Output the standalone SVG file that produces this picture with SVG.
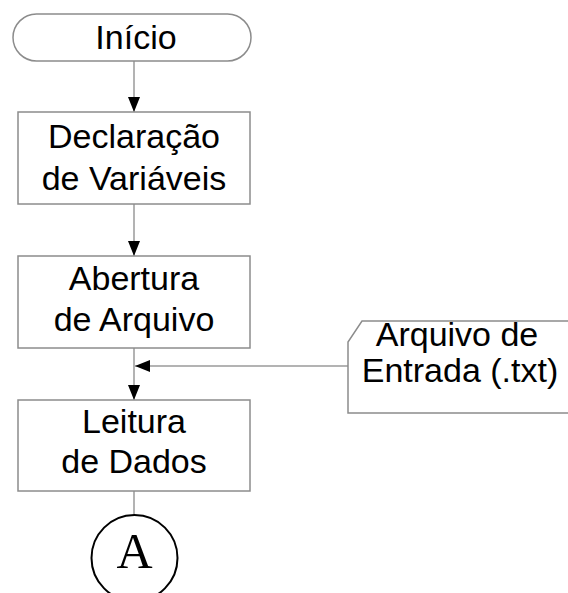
<svg xmlns="http://www.w3.org/2000/svg" width="568" height="593" viewBox="0 0 568 593">
<defs>
<style>
.shape{fill:#fff;stroke:#8c8c8c;stroke-width:1.5}
.t{font-family:"Liberation Sans",Arial,sans-serif;font-size:34px;fill:#000;text-anchor:middle}
.c{fill:none;stroke:#9a9a9a;stroke-width:1.5}
</style>
<marker id="ah" markerWidth="15" markerHeight="12" refX="15" refY="6" orient="auto" markerUnits="userSpaceOnUse">
<path d="M0,0 L15,6 L0,12 Z" fill="#000"/>
</marker>
</defs>
<rect width="568" height="593" fill="#fff"/>
<g id="connectors">
<line class="c" x1="134" y1="61" x2="134" y2="112" marker-end="url(#ah)"/>
<line class="c" x1="134" y1="204" x2="134" y2="256" marker-end="url(#ah)"/>
<line class="c" x1="134" y1="348" x2="134" y2="400" marker-end="url(#ah)"/>
<line class="c" x1="348" y1="366" x2="135" y2="366" marker-end="url(#ah)"/>
<line class="c" x1="134" y1="491" x2="134" y2="515"/>
</g>
<g id="inicio">
<rect class="shape" x="13" y="14" width="238" height="47" rx="23.5"/>
<text class="t" x="136" y="49">Início</text>
</g>
<g id="declaracao">
<rect class="shape" x="18" y="112" width="232" height="92"/>
<text class="t" x="134" y="148">Declaração</text>
<text class="t" x="134" y="190">de Variáveis</text>
</g>
<g id="abertura">
<rect class="shape" x="18" y="256" width="232" height="92"/>
<text class="t" x="134" y="290">Abertura</text>
<text class="t" x="134" y="331">de Arquivo</text>
</g>
<g id="arquivo-entrada">
<path class="shape" d="M570,321 L362,321 L348,342 L348,413 L570,413"/>
<text class="t" x="457" y="346">Arquivo de</text>
<text class="t" x="460" y="382">Entrada (.txt)</text>
</g>
<g id="leitura">
<rect class="shape" x="18" y="400" width="232" height="91"/>
<text class="t" x="134" y="433">Leitura</text>
<text class="t" x="134" y="473">de Dados</text>
</g>
<g id="conector-a">
<circle cx="134.5" cy="558" r="43" fill="#fff" stroke="#000" stroke-width="2"/>
<text x="134.5" y="568" style="font-family:'Liberation Serif','Times New Roman',serif;font-size:50px;text-anchor:middle;fill:#000">A</text>
</g>
</svg>
